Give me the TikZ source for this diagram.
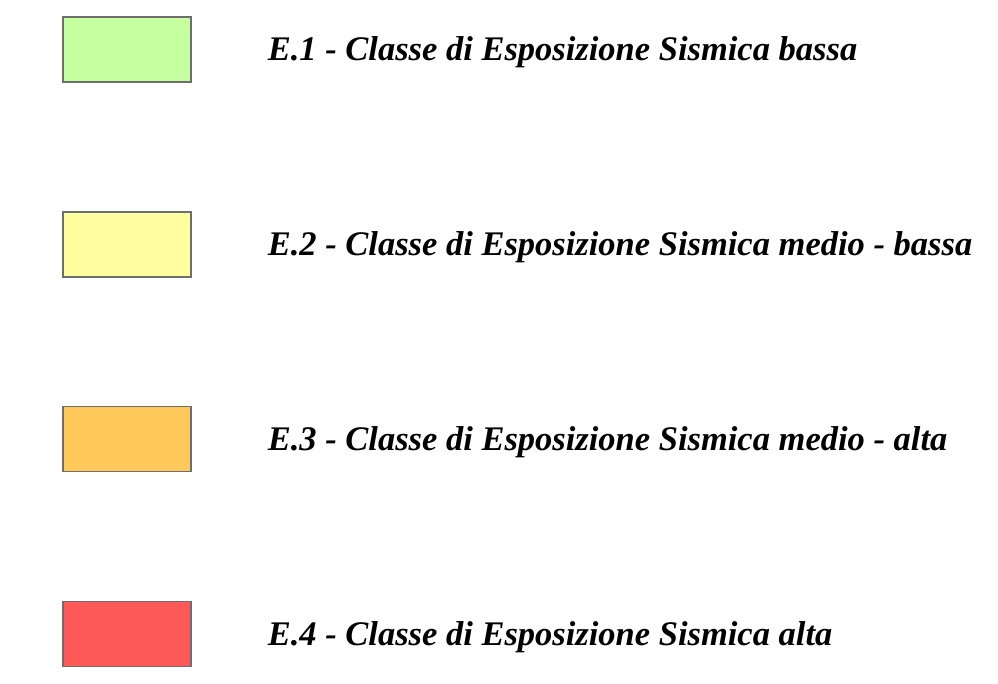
\documentclass[tikz,border=0pt]{standalone}
\usepackage{fontspec}
\setmainfont{Liberation Serif}
\usepackage{tikz}
\usetikzlibrary{positioning}

\definecolor{classgreen}{RGB}{198,255,160}
\definecolor{classyellow}{RGB}{255,255,160}
\definecolor{classorange}{RGB}{255,200,90}
\definecolor{classred}{RGB}{255,88,88}
\definecolor{boxline}{RGB}{110,110,110}

\begin{document}
\begin{tikzpicture}[x=1pt,y=1pt,
		swatch/.style={draw=boxline, line width=1.2pt, minimum width=128pt, minimum height=65pt, inner sep=0pt},
		classlabel/.style={right=76pt of #1, inner sep=0pt, text height=23pt, text depth=0pt,
			font=\fontsize{34.5}{40}\selectfont\bfseries\itshape}]
		\useasboundingbox (0,0) rectangle (998,-684);
		\node (box1) at (127,-49.5) [swatch, fill=classgreen] {};
		\node (box2) at (127,-244.5) [swatch, fill=classyellow] {};
		\node (box3) at (127,-439) [swatch, fill=classorange] {};
		\node (box4) at (127,-634) [swatch, fill=classred] {};
		\node (lab1) [classlabel=box1] {E.1 - Classe di Esposizione Sismica bassa};
		\node (lab2) [classlabel=box2] {E.2 - Classe di Esposizione Sismica medio - bassa};
		\node (lab3) [classlabel=box3] {E.3 - Classe di Esposizione Sismica medio - alta};
		\node (lab4) [classlabel=box4] {E.4 - Classe di Esposizione Sismica alta};
	\end{tikzpicture}
\end{document}
